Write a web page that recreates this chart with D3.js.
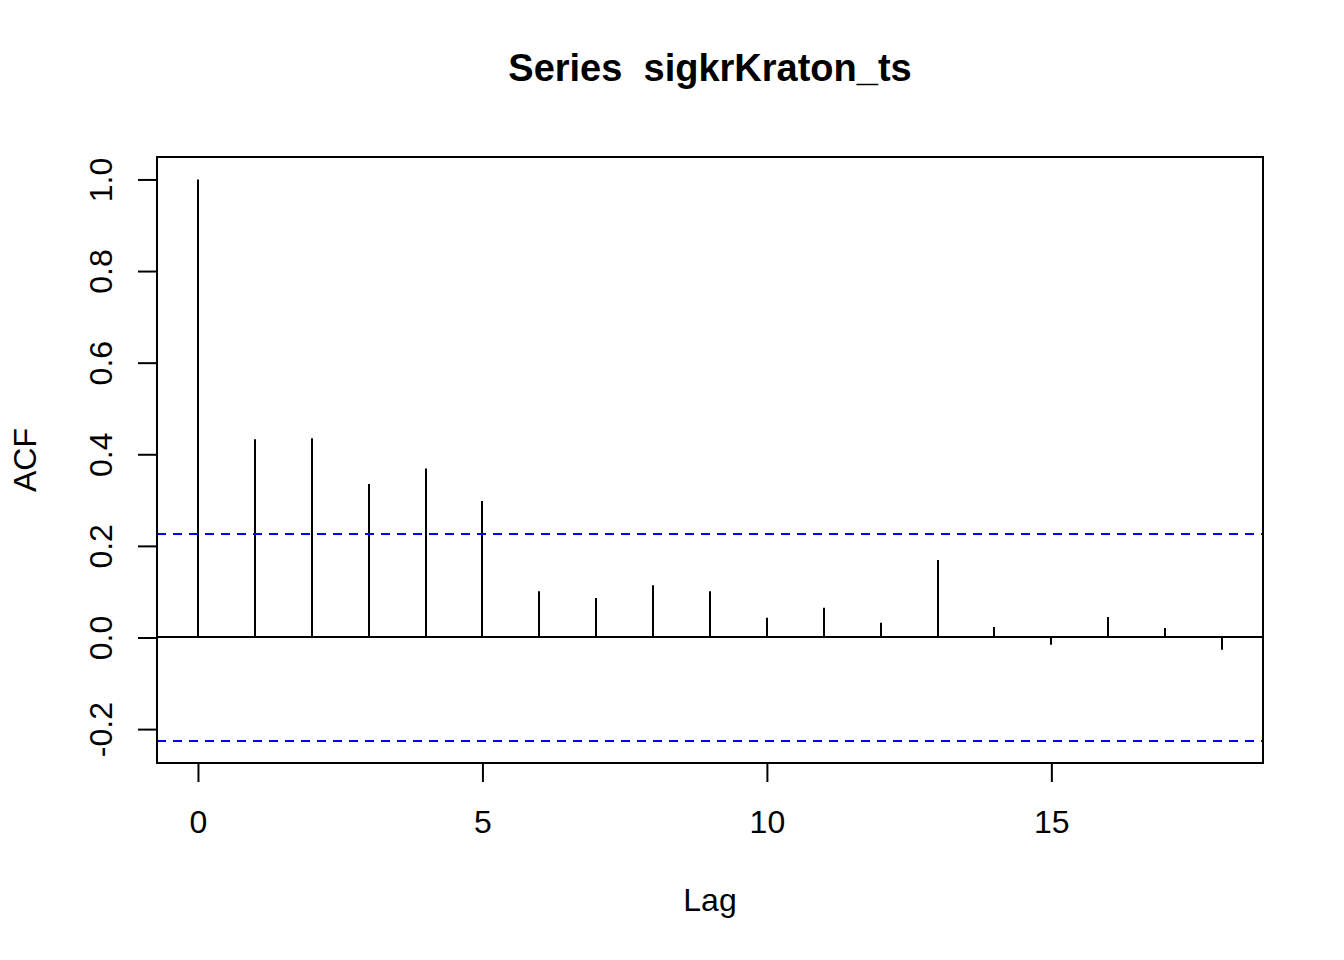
<!DOCTYPE html>
<html>
<head>
<meta charset="utf-8">
<script src="https://cdn.jsdelivr.net/npm/d3@7"></script>
<style>
  body { margin: 0; background: #fff; }
  svg { display: block; font-family: "Liberation Sans", Arial, sans-serif; }
</style>
</head>
<body>
<div id="chart"></div>
<script>
// ACF of sigkrKraton_ts
const lags = [0, 1, 2, 3, 4, 5, 6, 7, 8, 9, 10, 11, 12, 13, 14, 15, 16, 17, 18];
const acfValues = [1.0, 0.433, 0.435, 0.335, 0.369, 0.298, 0.101, 0.086, 0.114, 0.101,
                   0.043, 0.065, 0.032, 0.169, 0.023, -0.016, 0.045, 0.021, -0.027];
const confLimit = 0.225;
const xTicks = [0, 5, 10, 15];
const yTicks = [-0.2, 0.0, 0.2, 0.4, 0.6, 0.8, 1.0];
const titleText = "Series  sigkrKraton_ts";
const xLabel = "Lag";
const yLabel = "ACF";

const W = 1344, H = 960;
const plot = { left: 157, right: 1263, top: 157, bottom: 763 };
const fontAxis = 32, fontTitle = 38;

const svg = d3.select("#chart").append("svg")
    .attr("width", W)
    .attr("height", H);

// R style: 4% padding on each side of the data range
const xMin = d3.min(lags), xMax = d3.max(lags);
const xPad = (xMax - xMin) * 0.04;
const x = d3.scaleLinear()
    .domain([xMin - xPad, xMax + xPad])
    .range([plot.left, plot.right]);

const yLo = Math.min(-confLimit, d3.min(acfValues)), yHi = Math.max(confLimit, d3.max(acfValues));
const yPad = (yHi - yLo) * 0.04;
const y = d3.scaleLinear()
    .domain([yLo - yPad, yHi + yPad])
    .range([plot.bottom, plot.top]);

// spikes (snapped to whole pixels so they stay crisp)
svg.append("g")
    .selectAll("line")
    .data(lags)
    .enter()
    .append("line")
    .attr("x1", d => Math.round(x(d)))
    .attr("x2", d => Math.round(x(d)))
    .attr("y1", y(0))
    .attr("y2", (d, i) => y(acfValues[i]))
    .attr("stroke", "#000")
    .attr("stroke-width", 2);

// zero line
svg.append("line")
    .attr("x1", plot.left).attr("x2", plot.right)
    .attr("y1", Math.round(y(0))).attr("y2", Math.round(y(0)))
    .attr("stroke", "#000")
    .attr("stroke-width", 2);

// confidence bounds
svg.append("g")
    .selectAll("line")
    .data([confLimit, -confLimit])
    .enter()
    .append("line")
    .attr("x1", plot.left).attr("x2", plot.right)
    .attr("y1", d => Math.round(y(d))).attr("y2", d => Math.round(y(d)))
    .attr("stroke", "#0000ff")
    .attr("stroke-width", 2)
    .attr("stroke-dasharray", "9,7");

// box
svg.append("rect")
    .attr("x", plot.left)
    .attr("y", plot.top)
    .attr("width", plot.right - plot.left)
    .attr("height", plot.bottom - plot.top)
    .attr("fill", "none")
    .attr("stroke", "#000")
    .attr("stroke-width", 2);

// x axis
const xAxis = svg.append("g")
    .attr("transform", `translate(0,${plot.bottom})`)
    .call(d3.axisBottom(x).tickValues(xTicks).tickSize(19).tickFormat(d3.format("d")));
xAxis.select(".domain").remove();
xAxis.selectAll(".tick line").attr("stroke", "#000").attr("stroke-width", 2);
xAxis.selectAll(".tick text")
    .attr("font-size", fontAxis)
    .attr("fill", "#000")
    .attr("font-family", "Liberation Sans, Arial, sans-serif")
    .attr("dy", null)
    .attr("y", 833 - plot.bottom);

// y axis
const yAxis = svg.append("g")
    .attr("transform", `translate(${plot.left},0)`)
    .call(d3.axisLeft(y).tickValues(yTicks).tickSize(19).tickFormat(d3.format(".1f")));
yAxis.select(".domain").remove();
yAxis.selectAll(".tick line").attr("stroke", "#000").attr("stroke-width", 2);
yAxis.selectAll(".tick text")
    .attr("font-size", fontAxis)
    .attr("fill", "#000")
    .attr("font-family", "Liberation Sans, Arial, sans-serif")
    .attr("x", null)
    .attr("dy", null)
    .attr("text-anchor", "middle")
    .attr("transform", `translate(${112 - plot.left},0) rotate(-90)`)
    .text(d => d3.format(".1f")(d).replace("\u2212", "-"));

// title and axis labels
svg.append("text")
    .attr("x", (plot.left + plot.right) / 2)
    .attr("y", 81)
    .attr("text-anchor", "middle")
    .attr("font-size", fontTitle)
    .attr("font-weight", "bold")
    .style("white-space", "pre")
    .text(titleText);

svg.append("text")
    .attr("x", (plot.left + plot.right) / 2)
    .attr("y", 911)
    .attr("text-anchor", "middle")
    .attr("font-size", fontAxis)
    .text(xLabel);

svg.append("text")
    .attr("transform", `translate(36,${(plot.top + plot.bottom) / 2}) rotate(-90)`)
    .attr("text-anchor", "middle")
    .attr("font-size", fontAxis)
    .text(yLabel);
</script>
</body>
</html>
